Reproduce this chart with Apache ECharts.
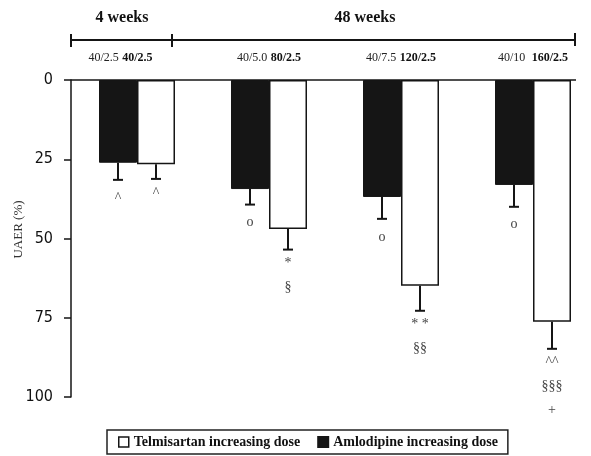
<!DOCTYPE html>
<html>
<head>
<meta charset="utf-8">
<script src="https://cdn.jsdelivr.net/npm/echarts@6/dist/echarts.min.js"></script>
<style>html,body{margin:0;padding:0;background:#fff;}#c{width:591px;height:456px;}</style>
</head>
<body>
<div id="c"></div>
<script>
// ---- data ----
const amloDose = ['40/2.5', '40/5.0', '40/7.5', '40/10 '];
const telmiDose = ['40/2.5', '80/2.5', '120/2.5', '160/2.5'];
const amloValues = [26.1, 34.4, 36.9, 33.1];
const amloErr = [5.4, 4.9, 6.9, 6.9];
const telmiValues = [26.6, 47.0, 64.9, 76.3];
const telmiErr = [4.6, 6.5, 7.9, 8.5];
const amloMarks = ['^', 'o', 'o', 'o'];
const telmiMarks = ['^', '*\n§', '* *\n§§', '^^\n§§§\n+'];
const periods = ['4 weeks', '48 weeks'];
const yTicks = [0, 25, 50, 75, 100];
const seriesNames = ['Amlodipine increasing dose', 'Telmisartan increasing dose'];

const categories = amloDose.map((d, i) => i);

const chart = echarts.init(document.getElementById('c'), null, {renderer: 'canvas'});
const BAR_W = 38;
const INK = '#151515';

function errSeries(values, errs, marks, offset, gap) {
  return {
    type: 'custom',
    name: 'err' + offset,
    z: 5,
    data: values.map((v, i) => [i, v, errs[i]]),
    renderItem: function (params, api) {
      const i = api.value(0), m = api.value(1), e = api.value(2);
      const p0 = api.coord([i, m]);
      const p1 = api.coord([i, m + e]);
      const x = p0[0] + offset;
      return {
        type: 'group',
        children: [
          {type: 'line', shape: {x1: x, y1: p0[1], x2: x, y2: p1[1]}, style: {stroke: INK, lineWidth: 2}},
          {type: 'line', shape: {x1: x - 5, y1: p1[1], x2: x + 5, y2: p1[1]}, style: {stroke: INK, lineWidth: 2}},
          {type: 'text', x: x, y: p1[1] + gap, style: {
            text: marks[params.dataIndex], align: 'center', verticalAlign: 'top',
            font: '14px "Liberation Serif"', lineHeight: 24, fill: '#444'}}
        ]
      };
    }
  };
}

const option = {
  animation: false,
  backgroundColor: '#fff',
  grid: {left: 71, top: 80, width: 528, bottom: 59, containLabel: false, outerBoundsMode: 'none'},
  xAxis: {
    type: 'category',
    position: 'top',
    data: categories,
    axisLine: {show: false},
    axisTick: {show: false},
    axisLabel: {
      margin: 16,
      interval: 0,
      hideOverlap: false,
      formatter: function (v, idx) {
        const s = '{a|' + amloDose[idx] + '} {b|' + telmiDose[idx] + '}';
        return idx === 0 ? s + '{sp|}' : s;
      },
      rich: {
        a: {fontFamily: 'Liberation Serif', fontSize: 12, color: '#222'},
        b: {fontFamily: 'Liberation Serif', fontSize: 12, fontWeight: 'bold', color: '#111'},
        sp: {width: 33}
      }
    }
  },
  yAxis: {
    type: 'value',
    inverse: true,
    min: 0, max: 100, interval: 25,
    name: 'UAER (%)',
    nameLocation: 'middle',
    nameGap: 46,
    nameMoveOverlap: false,
    nameRotate: 90,
    nameTextStyle: {fontFamily: 'Liberation Serif', fontSize: 13, color: '#333', padding: [0, 0, 0, 18]},
    axisLine: {show: true, lineStyle: {color: INK, width: 1.5}},
    axisTick: {show: true, length: 7, inside: false, lineStyle: {color: INK, width: 1.5}},
    axisLabel: {
      margin: 18,
      fontFamily: '"DejaVu Sans Condensed", "DejaVu Sans"',
      fontSize: 16,
      color: '#111',
      formatter: v => (yTicks.indexOf(v) >= 0 ? String(v) : '')
    },
    splitLine: {show: false}
  },
  legend: {
    left: 107, top: 430,
    orient: 'horizontal',
    itemWidth: 10, itemHeight: 10, itemGap: 17,
    padding: [5, 10, 5, 11],
    borderColor: '#222', borderWidth: 1.5,
    textStyle: {fontFamily: 'Liberation Serif', fontWeight: 'bold', fontSize: 14, color: '#111'},
    data: [
      {name: seriesNames[1], icon: 'rect', itemStyle: {color: '#fff', borderColor: INK, borderWidth: 1.5}},
      {name: seriesNames[0], icon: 'rect', itemStyle: {color: INK}}
    ]
  },
  series: [
    {
      type: 'bar', name: seriesNames[0], data: amloValues,
      barWidth: BAR_W, barGap: '0%',
      itemStyle: {color: INK, borderColor: INK, borderWidth: 1}
    },
    {
      type: 'bar', name: seriesNames[1], data: telmiValues,
      barWidth: BAR_W, barGap: '0%',
      itemStyle: {color: '#fff', borderColor: INK, borderWidth: 1.5}
    },
    errSeries(amloValues, amloErr, amloMarks, -BAR_W / 2, 6),
    errSeries(telmiValues, telmiErr, telmiMarks, BAR_W / 2, 2)
  ],
  graphic: [
    // top border of plot
    {type: 'line', shape: {x1: 71, y1: 80, x2: 576, y2: 80}, style: {stroke: INK, lineWidth: 1.5}, z: 10},
    // period bracket
    {type: 'line', shape: {x1: 71, y1: 40, x2: 575, y2: 40}, style: {stroke: INK, lineWidth: 2}},
    {type: 'line', shape: {x1: 71, y1: 34, x2: 71, y2: 47}, style: {stroke: INK, lineWidth: 2}},
    {type: 'line', shape: {x1: 172, y1: 34, x2: 172, y2: 47}, style: {stroke: INK, lineWidth: 2}},
    {type: 'line', shape: {x1: 575, y1: 33, x2: 575, y2: 46}, style: {stroke: INK, lineWidth: 2}},
    {type: 'text', x: 122, y: 18, style: {text: periods[0], align: 'center', verticalAlign: 'middle',
      font: 'bold 16px "Liberation Serif"', fill: '#111'}},
    {type: 'text', x: 365, y: 18, style: {text: periods[1], align: 'center', verticalAlign: 'middle',
      font: 'bold 16px "Liberation Serif"', fill: '#111'}}
  ]
};
chart.setOption(option);
</script>
</body>
</html>
